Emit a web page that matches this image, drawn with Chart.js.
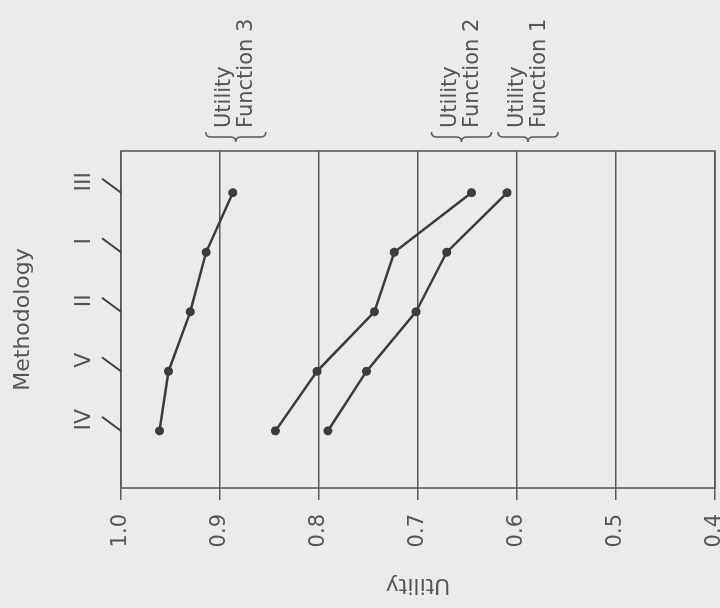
<!DOCTYPE html>
<html>
<head>
<meta charset="utf-8">
<script src="https://cdn.jsdelivr.net/npm/chart.js@4/dist/chart.umd.min.js"></script>
<style>
  html, body { margin:0; padding:0; background:#ebebe9; overflow:hidden; }
  body { width:720px; height:608px; position:relative; }
  /* figure is scanned sideways: draw it upright, then turn it a quarter turn left */
  #wrap { position:absolute; left:56px; top:-56px; width:608px; height:720px; transform:rotate(-90deg); }
</style>
</head>
<body>
<div id="wrap"><canvas id="grafico" width="608" height="720"></canvas></div>
<script>
// ----------------------
// Dados
// ----------------------
const metodos = ['IV', 'V', 'II', 'I', 'III'];
const utilidadeTicks = [1.0, 0.9, 0.8, 0.7, 0.6, 0.5, 0.4];
const funcao1 = [0.791, 0.752, 0.702, 0.671, 0.610];
const funcao2 = [0.844, 0.802, 0.744, 0.724, 0.646];
const funcao3 = [0.961, 0.952, 0.930, 0.914, 0.887];
const nomesFuncoes = ['Function 1', 'Function 2', 'Function 3'];

const tinta = '#3c3c3c';
const textoCor = '#555555';
Chart.defaults.font.family = 'DejaVu Sans';
Chart.defaults.color = textoCor;

function serie(vals){ return vals.map((v, i) => ({ x: i, y: v })); }

// ----------------------
// Moldura, tracos inclinados e rotulos das curvas
// ----------------------
const extras = {
  id: 'extras',
  afterDraw(chart, args, opts){
    const { ctx, chartArea: a, scales: { x, y } } = chart;
    ctx.save();
    ctx.strokeStyle = '#5a5a5a';
    ctx.lineWidth = 1.6;
    ctx.strokeRect(a.left, a.top, a.right - a.left, a.bottom - a.top);

    // slanted tick marks on the methodology axis
    ctx.strokeStyle = tinta;
    ctx.lineWidth = 2;
    metodos.forEach((m, i) => {
      const px = x.getPixelForValue(i);
      ctx.beginPath();
      ctx.moveTo(px, a.top);
      ctx.lineTo(px + 14, a.top - 19);
      ctx.stroke();
    });

    // "{ Utility / Function n" labels
    ctx.font = '21px "DejaVu Sans"';
    ctx.fillStyle = textoCor;
    ctx.textBaseline = 'middle';
    ctx.textAlign = 'left';
    chart.data.datasets.forEach((ds, i) => {
      const ultimo = ds.data[ds.data.length - 1].y;
      const cy = y.getPixelForValue(ultimo) + opts.desloc[i];
      ctx.fillText('Utility', a.right + 23, cy - 11);
      ctx.fillText(nomesFuncoes[i], a.right + 23, cy + 11);
      const bx = a.right + 9, w = 10, y1 = cy - 30, y2 = cy + 30;
      ctx.strokeStyle = '#5a5a5a';
      ctx.lineWidth = 1.5;
      ctx.beginPath();
      ctx.moveTo(bx + w, y1);
      ctx.quadraticCurveTo(bx + w/2, y1, bx + w/2, y1 + w/2);
      ctx.lineTo(bx + w/2, cy - w/2);
      ctx.quadraticCurveTo(bx + w/2, cy, bx, cy);
      ctx.quadraticCurveTo(bx + w/2, cy, bx + w/2, cy + w/2);
      ctx.lineTo(bx + w/2, y2 - w/2);
      ctx.quadraticCurveTo(bx + w/2, y2, bx + w, y2);
      ctx.stroke();
    });
    ctx.restore();
  }
};

const estiloLinha = { borderColor: tinta, borderWidth: 2.5, pointRadius: 4.5, pointBackgroundColor: tinta, pointBorderWidth: 0, showLine: true };

new Chart(document.getElementById('grafico'), {
  type: 'scatter',
  data: {
    datasets: [
      { label: 'Utility Function 1', data: serie(funcao1), ...estiloLinha },
      { label: 'Utility Function 2', data: serie(funcao2), ...estiloLinha },
      { label: 'Utility Function 3', data: serie(funcao3), ...estiloLinha }
    ]
  },
  options: {
    responsive: false,
    animation: false,
    layout: { padding: { top: 0, left: 0, right: 151, bottom: 5 } },
    plugins: {
      legend: { display: false },
      tooltip: { enabled: false },
      extras: { desloc: [21, -10, 3] }
    },
    scales: {
      x: {
        type: 'linear',
        position: 'top',
        min: -0.96,
        max: 4.7,
        afterBuildTicks: s => { s.ticks = metodos.map((m, i) => ({ value: i })); },
        afterFit: s => { s.height = 121; s.paddingLeft = 0; s.paddingRight = 0; },
        grid: { display: false, drawTicks: false },
        border: { display: false },
        ticks: {
          callback: v => metodos[v],
          autoSkip: false, maxRotation: 0, minRotation: 0,
          labelOffset: 11, padding: 24,
          font: { size: 22 }
        },
        title: { display: true, text: 'Methodology', font: { size: 22 }, padding: { top: 10, bottom: 0 } }
      },
      y: {
        type: 'linear',
        min: 0.4,
        max: 1.0,
        afterBuildTicks: s => { s.ticks = utilidadeTicks.map(v => ({ value: v })); },
        afterFit: s => { s.width = 120; s.paddingTop = 0; s.paddingBottom = 0; },
        grid: { color: '#5a5a5a', lineWidth: 1.5, tickLength: 12 },
        border: { display: false },
        ticks: { callback: v => v.toFixed(1), padding: 14, font: { size: 21 } },
        title: { display: true, text: 'Utility', font: { size: 22 }, padding: { top: 10, bottom: 0 } }
      }
    }
  },
  plugins: [extras]
});
</script>
</body>
</html>
